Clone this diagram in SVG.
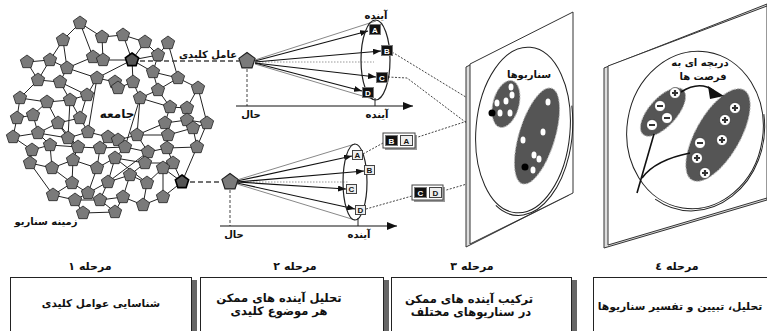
<svg xmlns="http://www.w3.org/2000/svg" xmlns:xlink="http://www.w3.org/1999/xlink" width="767" height="331" viewBox="0 0 767 331">
<style>
.fa{font-family:"DejaVu Sans",sans-serif;font-weight:bold;text-anchor:middle;fill:#111}
.lat{font-family:"Liberation Sans",Arial,sans-serif;font-weight:bold;text-anchor:middle;font-size:8px}
.net{stroke:#222;stroke-width:1;fill:none}
.pn{fill:#7a7a7a;stroke:#222;stroke-width:0.8}
.pk{fill:#555;stroke:#000;stroke-width:1.6}
.dash{stroke:#444;stroke-width:1.3;stroke-dasharray:5,3;fill:none}
.vd{stroke:#444;stroke-width:1;stroke-dasharray:3,2;fill:none}
.dot{stroke:#444;stroke-width:1;stroke-dasharray:2,1.5;fill:none}
.hdot{stroke:#999;stroke-width:1;stroke-dasharray:1.5,1.5;fill:none}
.arr{stroke:#111;stroke-width:1.2;fill:none;marker-end:url(#ah)}
.gl{stroke:#888;stroke-width:1;fill:none}
.ax{stroke:#111;stroke-width:1.2;fill:none;marker-end:url(#axh)}
.blob{fill:#555;stroke:#bbb;stroke-width:1;stroke-dasharray:2,1}
.wd{fill:#fff;stroke:none}
.sg{fill:#fff;stroke:#222;stroke-width:0.6}
.sym{stroke:#333;stroke-width:2.2;fill:none}
.box{fill:#fff;stroke:#222;stroke-width:1}
.shd{fill:#666}
</style>
<defs>
<marker id="ah" markerWidth="8" markerHeight="6" refX="8" refY="3" orient="auto" markerUnits="userSpaceOnUse"><path d="M0,0L8,3L0,6z" fill="#111"/></marker>
<marker id="axh" markerWidth="10" markerHeight="8" refX="10" refY="4" orient="auto" markerUnits="userSpaceOnUse"><path d="M0,0L10,4L0,8z" fill="#111"/></marker>
<path id="p" d="M0,-7L6.66,-2.16L4.11,5.66L-4.11,5.66L-6.66,-2.16Z"/>
<path id="pb" d="M0,-8.5L8.08,-2.63L5,6.88L-5,6.88L-8.08,-2.63Z"/>
</defs>
<rect width="767" height="331" fill="#fff"/>

<!-- Stage 1 network -->
<g id="network">
<path class="net" d="M80 23L63 40M80 23L102 37M80 23L93 57M63 40L50 60M63 40L67 68M102 37L123 35M102 37L103 60M123 35L145 42M123 35L132 60M145 42L132 60M145 42L158 55M168 43L158 55M168 43L178 78M27 62L50 60M27 62L38 80M50 60L67 68M50 60L38 80M93 57L103 60M93 57L67 68M103 60L132 60M132 60L158 55M132 60L133 82M132 60L97 78M132 60L153 72M158 55L153 72M67 68L97 78M67 68L60 82M97 78L115 82M97 78L87 95M115 82L118 88M118 88L133 82M133 82L140 98M153 72L178 78M153 72L158 90M178 78L198 88M178 78L158 90M38 80L60 82M38 80L20 98M60 82L87 95M60 82L70 100M87 95L70 100M87 95L80 118M140 98L158 90M140 98L170 107M140 98L137 135M158 90L170 107M198 88L187 108M198 88L207 123M20 98L47 102M20 98L17 118M47 102L70 100M47 102L33 115M47 102L58 123M70 100L80 118M170 107L187 108M170 107L165 123M187 108L187 120M17 118L33 115M17 118L13 137M33 115L38 133M58 123L80 118M58 123L68 138M58 123L38 133M80 118L88 132M165 123L187 120M165 123L168 135M165 123L137 135M187 120L207 123M187 120L193 128M207 123L193 128M207 123L197 147M13 137L38 133M13 137L32 150M38 133L68 138M38 133L50 145M68 138L88 132M68 138L78 147M88 132L108 137M108 137L118 140M108 137L100 148M118 140L137 135M118 140L125 147M137 135L168 135M137 135L148 152M168 135L193 128M168 135L167 148M193 128L197 147M32 150L50 145M32 150L30 163M50 145L78 147M50 145L52 168M78 147L100 148M78 147L73 160M100 148L125 147M100 148L97 168M125 147L148 152M125 147L115 158M148 152L167 148M148 152L145 163M167 148L197 147M167 148L173 163M197 147L182 182M30 163L52 168M30 163L53 195M52 168L73 160M52 168L72 183M73 160L97 168M73 160L72 183M97 168L115 158M97 168L88 193M115 158L145 163M115 158L108 182M145 163L173 163M145 163L130 175M173 163L182 182M173 163L163 168M182 182L163 197M182 182L163 168M53 195L72 183M53 195L75 200M72 183L88 193M88 193L108 182M88 193L75 200M108 182L130 175M108 182L100 200M130 175L147 183M130 175L123 197M147 183L163 168M147 183L143 205M163 168L163 197M75 200L100 200M75 200L83 213M100 200L123 197M100 200L115 212M123 197L143 205M123 197L115 212M143 205L163 197M83 213L115 212M140 98L125 147M58 123L78 147M97 78L88 132M108 182L148 152M115 158L147 183M70 100L68 138"/>
<g class="pn">
<use xlink:href="#p" x="80" y="23"/><use xlink:href="#p" x="63" y="40"/><use xlink:href="#p" x="102" y="37"/><use xlink:href="#p" x="123" y="35"/><use xlink:href="#p" x="145" y="42"/><use xlink:href="#p" x="168" y="43"/>
<use xlink:href="#p" x="27" y="62"/><use xlink:href="#p" x="50" y="60"/><use xlink:href="#p" x="93" y="57"/><use xlink:href="#p" x="103" y="60"/><use xlink:href="#p" x="158" y="55"/>
<use xlink:href="#p" x="67" y="68"/><use xlink:href="#p" x="97" y="78"/><use xlink:href="#p" x="115" y="82"/><use xlink:href="#p" x="118" y="88"/><use xlink:href="#p" x="133" y="82"/><use xlink:href="#p" x="153" y="72"/><use xlink:href="#p" x="178" y="78"/>
<use xlink:href="#p" x="38" y="80"/><use xlink:href="#p" x="60" y="82"/><use xlink:href="#p" x="87" y="95"/><use xlink:href="#p" x="140" y="98"/><use xlink:href="#p" x="158" y="90"/><use xlink:href="#p" x="198" y="88"/>
<use xlink:href="#p" x="20" y="98"/><use xlink:href="#p" x="47" y="102"/><use xlink:href="#p" x="70" y="100"/><use xlink:href="#p" x="170" y="107"/><use xlink:href="#p" x="187" y="108"/>
<use xlink:href="#p" x="17" y="118"/><use xlink:href="#p" x="33" y="115"/><use xlink:href="#p" x="58" y="123"/><use xlink:href="#p" x="80" y="118"/><use xlink:href="#p" x="165" y="123"/><use xlink:href="#p" x="187" y="120"/><use xlink:href="#p" x="207" y="123"/>
<use xlink:href="#p" x="13" y="137"/><use xlink:href="#p" x="38" y="133"/><use xlink:href="#p" x="68" y="138"/><use xlink:href="#p" x="88" y="132"/><use xlink:href="#p" x="108" y="137"/><use xlink:href="#p" x="118" y="140"/><use xlink:href="#p" x="137" y="135"/><use xlink:href="#p" x="168" y="135"/><use xlink:href="#p" x="193" y="128"/>
<use xlink:href="#p" x="32" y="150"/><use xlink:href="#p" x="50" y="145"/><use xlink:href="#p" x="78" y="147"/><use xlink:href="#p" x="100" y="148"/><use xlink:href="#p" x="125" y="147"/><use xlink:href="#p" x="148" y="152"/><use xlink:href="#p" x="167" y="148"/><use xlink:href="#p" x="197" y="147"/>
<use xlink:href="#p" x="30" y="163"/><use xlink:href="#p" x="52" y="168"/><use xlink:href="#p" x="73" y="160"/><use xlink:href="#p" x="97" y="168"/><use xlink:href="#p" x="115" y="158"/><use xlink:href="#p" x="145" y="163"/><use xlink:href="#p" x="173" y="163"/>
<use xlink:href="#p" x="53" y="195"/><use xlink:href="#p" x="72" y="183"/><use xlink:href="#p" x="88" y="193"/><use xlink:href="#p" x="108" y="182"/><use xlink:href="#p" x="130" y="175"/><use xlink:href="#p" x="147" y="183"/><use xlink:href="#p" x="163" y="168"/>
<use xlink:href="#p" x="75" y="200"/><use xlink:href="#p" x="100" y="200"/><use xlink:href="#p" x="123" y="197"/><use xlink:href="#p" x="143" y="205"/><use xlink:href="#p" x="163" y="197"/>
<use xlink:href="#p" x="83" y="213"/><use xlink:href="#p" x="115" y="212"/>
</g>
<text class="fa" x="117" y="118" font-size="12">جامعه</text>
<text class="fa" x="46" y="225" font-size="10">زمینه سناریو</text>
</g>
<g id="key1"><use xlink:href="#p" class="pk" x="132" y="60"/></g>
<g id="key2"><use xlink:href="#p" class="pk" x="182" y="182"/></g>

<!-- connectors -->
<g id="connectors">
<path class="dash" d="M140 61H239"/>
<path class="dash" d="M190 182H221"/>
<path class="vd" d="M247 69V106"/>
<path class="vd" d="M230 190V226"/>
<path class="ax" d="M236 106H413"/>
<path class="ax" d="M220 226H397"/>
<path class="net" d="M375 98V106M358 218V226"/>
<path class="hdot" d="M256 62H374"/>
<path class="hdot" d="M238 182H348"/>
<path class="gl" d="M255 60L376 21M255 64L376 100"/>
<path class="gl" d="M237 180L355 144M237 184L355 220"/>
<path class="arr" d="M255 61L368 31"/>
<path class="arr" d="M255 62L381 51"/>
<path class="arr" d="M255 63L376 77"/>
<path class="arr" d="M255 63L362 91"/>
<path class="arr" d="M237 181L352 156"/>
<path class="arr" d="M237 182L364 171"/>
<path class="arr" d="M237 182L346 189"/>
<path class="arr" d="M237 183L355 209"/>
<path class="dot" d="M392 52L492 113"/>
<path class="dot" d="M388 77L407 78L525 167"/>
<path class="dot" d="M363 154L383 143"/>
<path class="dot" d="M366 209L412 196"/>
<path class="dot" d="M415 138L492 113"/>
<path class="dot" d="M443 191L525 167"/>
</g>

<!-- Stage 2 -->
<g id="stage2-top">
<use xlink:href="#pb" class="pn" style="stroke-width:1.2" x="247" y="61"/>
<text class="fa" x="208" y="58" font-size="10">عامل کلیدی</text>
<ellipse cx="375.5" cy="60" rx="14.5" ry="40" fill="none" stroke="#222" stroke-width="1.2"/>
<text class="fa" x="376" y="19" font-size="10">آینده</text>
<text class="fa" x="251" y="118" font-size="10">حال</text>
<text class="fa" x="377" y="118" font-size="10">آینده</text>
</g>
<g id="fA"><rect x="369.5" y="24.5" width="11" height="10" fill="#111" stroke="#777"/><text class="lat" x="375" y="32.5" fill="#fff">A</text></g>
<g id="fB"><rect x="381.5" y="45.5" width="11" height="10" fill="#111" stroke="#777"/><text class="lat" x="387" y="53.5" fill="#fff">B</text></g>
<g id="fC"><rect x="376.5" y="72.5" width="11" height="10" fill="#111" stroke="#777"/><text class="lat" x="382" y="80.5" fill="#fff">C</text></g>
<g id="fD"><rect x="362.5" y="87.5" width="11" height="10" fill="#111" stroke="#777"/><text class="lat" x="368" y="95.5" fill="#fff">D</text></g>

<g id="stage2-bottom">
<use xlink:href="#pb" class="pn" style="stroke-width:1.2" x="230" y="182"/>
<ellipse cx="355" cy="182" rx="12" ry="38" fill="none" stroke="#222" stroke-width="1.2"/>
<text class="fa" x="234" y="238" font-size="10">حال</text>
<text class="fa" x="359" y="238" font-size="10">آینده</text>
</g>
<g id="gA"><rect x="352.5" y="150.5" width="10" height="9" fill="#eee" stroke="#444"/><text class="lat" x="357.5" y="158" fill="#111">A</text></g>
<g id="gB"><rect x="364.5" y="165.5" width="10" height="9" fill="#eee" stroke="#444"/><text class="lat" x="369.5" y="173" fill="#111">B</text></g>
<g id="gC"><rect x="346.5" y="184.5" width="10" height="9" fill="#eee" stroke="#444"/><text class="lat" x="351.5" y="192" fill="#111">C</text></g>
<g id="gD"><rect x="355.5" y="205.5" width="10" height="9" fill="#eee" stroke="#444"/><text class="lat" x="360.5" y="213" fill="#111">D</text></g>

<g id="comboBA">
<rect x="385" y="135" width="32" height="15" fill="#999"/>
<rect x="383" y="133" width="32" height="15" fill="#fff" stroke="#444"/>
<rect x="385.5" y="135.5" width="12" height="10" fill="#111" stroke="#777"/><text class="lat" x="391.5" y="143.5" fill="#fff">B</text>
<rect x="400.5" y="135.5" width="12" height="10" fill="#eee" stroke="#444"/><text class="lat" x="406.5" y="143.5" fill="#111">A</text>
</g>
<g id="comboCD">
<rect x="414" y="187" width="31" height="15" fill="#999"/>
<rect x="412" y="185" width="31" height="15" fill="#fff" stroke="#444"/>
<rect x="414.5" y="187.5" width="12" height="10" fill="#111" stroke="#777"/><text class="lat" x="420.5" y="195.5" fill="#fff">C</text>
<rect x="429.5" y="187.5" width="12" height="10" fill="#eee" stroke="#444"/><text class="lat" x="435.5" y="195.5" fill="#111">D</text>
</g>

<!-- Stage 3 board -->
<g id="stage3">
<polygon points="466,67 569,15 569,195 466,247" fill="#ddd" stroke="#333" stroke-width="1"/>
<polygon points="470,64 573,12 573,193 470,244" fill="#fff" stroke="#333" stroke-width="1"/>
<g transform="translate(523,130) rotate(5)">
<ellipse cx="0" cy="0" rx="47" ry="83" fill="none" stroke="#222" stroke-width="1"/>
<path d="M45 -30A49 85 0 0 1 -22 76" fill="none" stroke="#222" stroke-width="1" transform="translate(1.5,1.5)"/>
</g>
<text class="fa" x="529" y="78" font-size="10">سناریوها</text>
<ellipse class="blob" cx="506" cy="104" rx="13" ry="24" transform="rotate(15 506 104)"/>
<ellipse class="blob" cx="537" cy="136" rx="18" ry="50" transform="rotate(17 537 136)"/>
<g class="wd">
<ellipse cx="511" cy="87" rx="2.5" ry="3.5"/><ellipse cx="512" cy="95" rx="2.5" ry="3.5"/><ellipse cx="506" cy="101" rx="2.5" ry="3.5"/><ellipse cx="497" cy="103" rx="2.5" ry="3.5"/><ellipse cx="500" cy="113" rx="2.5" ry="3.5"/><ellipse cx="510" cy="113" rx="2.5" ry="3.5"/>
<ellipse cx="548" cy="102" rx="2.5" ry="3.5"/><ellipse cx="543" cy="132" rx="2.5" ry="3.5"/><ellipse cx="523" cy="140" rx="2.5" ry="3.5"/><ellipse cx="534" cy="155" rx="2.5" ry="3.5"/><ellipse cx="539" cy="159" rx="2.5" ry="3.5"/><ellipse cx="533" cy="170" rx="2.5" ry="3.5"/>
</g>
<circle cx="492" cy="113" r="3.5" fill="#000"/>
<circle cx="525" cy="167" r="3.5" fill="#000"/>
</g>

<!-- Stage 4 board -->
<g id="stage4">
<polygon points="604,68 767,4 767,200 604,248" fill="#ddd" stroke="#333" stroke-width="1"/>
<polygon points="608,66 767,6 767,198 608,245" fill="#fff" stroke="#333" stroke-width="1"/>
<g transform="translate(695,130) rotate(9)">
<ellipse cx="0" cy="0" rx="68" ry="79" fill="none" stroke="#222" stroke-width="1"/>
<path d="M64 -28A70 81 0 0 1 -30 73" fill="none" stroke="#222" stroke-width="1" transform="translate(1.5,1.5)"/>
</g>
<text class="fa" x="700" y="66" font-size="10">دریچه ای به</text>
<text class="fa" x="703" y="80" font-size="10">فرصت ها</text>
<ellipse class="blob" cx="663" cy="112" rx="14" ry="30" transform="rotate(42 663 112)"/>
<ellipse class="blob" cx="718" cy="135" rx="22" ry="52" transform="rotate(30 718 135)"/>
<path d="M637 193L654 134" fill="none" stroke="#111" stroke-width="1.6"/>
<path d="M642 178Q655 160 690 153" fill="none" stroke="#111" stroke-width="1.6"/>
<path d="M681 92Q700 80 714 91" fill="none" stroke="#111" stroke-width="1.6"/>
<path d="M708 86L724 96L710 99Z" fill="#111"/>
<g class="sg">
<circle cx="675" cy="93" r="5.5"/><circle cx="660" cy="106" r="5.5"/><circle cx="667" cy="118" r="5.5"/><circle cx="652" cy="125" r="5.5"/>
<circle cx="735" cy="108" r="5.5"/><circle cx="725" cy="120" r="5.5"/><circle cx="722" cy="140" r="5.5"/><circle cx="700" cy="143" r="5.5"/><circle cx="697" cy="158" r="5.5"/><circle cx="705" cy="173" r="5.5"/>
</g>
<path class="sym" d="M672 93H678M675 90V96M657 106H663M664 118H670M649 125H655M732 108H738M735 105V111M722 120H728M725 117V123M719 140H725M722 137V143M697 143H703M694 158H700M697 155V161M702 173H708M705 170V176"/>
</g>

<!-- bottom steps -->
<g id="step1">
<text class="fa" x="90" y="270" font-size="11">مرحله ۱</text>
<rect class="shd" x="192" y="280" width="5" height="51"/>
<rect class="box" x="10.5" y="277.5" width="181" height="60"/>
<text class="fa" x="101" y="307" font-size="10.5">شناسایی عوامل کلیدی</text>
</g>
<g id="step2">
<text class="fa" x="295" y="270" font-size="11">مرحله ۲</text>
<rect class="shd" x="384" y="280" width="5" height="51"/>
<rect class="box" x="200.5" y="277.5" width="183" height="60"/>
<text class="fa" x="279" y="302" font-size="11.5">تحلیل آینده های ممکن</text>
<text class="fa" x="279" y="315" font-size="11.5">هر موضوع کلیدی</text>
</g>
<g id="step3">
<text class="fa" x="472" y="270" font-size="11">مرحله ۳</text>
<rect class="shd" x="572" y="280" width="5" height="51"/>
<rect class="box" x="391.5" y="277.5" width="180" height="60"/>
<text class="fa" x="469" y="303" font-size="11.5">ترکیب آینده های ممکن</text>
<text class="fa" x="471" y="316" font-size="11.5">در سناریوهای مختلف</text>
</g>
<g id="step4">
<text class="fa" x="677" y="270" font-size="11">مرحله ٤</text>
<rect class="box" x="593.5" y="277.5" width="180" height="60"/>
<text class="fa" x="680" y="310" font-size="10.8">تحلیل، تبیین و تفسیر سناریوها</text>
</g>
</svg>
